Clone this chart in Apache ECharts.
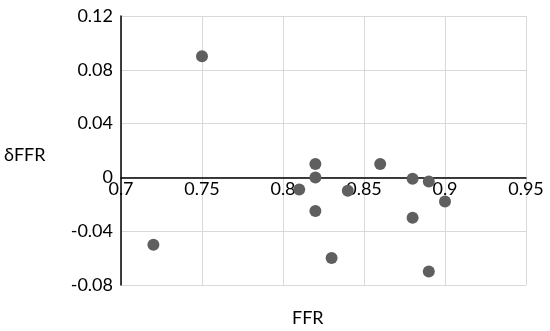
<!DOCTYPE html>
<html><head><meta charset="utf-8">
<script src="https://cdn.jsdelivr.net/npm/echarts@6/dist/echarts.min.js"></script>
<style>html,body{margin:0;padding:0;background:#fff}#c{width:550px;height:331px}</style>
</head><body><div id="c"></div>
<script>
const ffr = [0.72, 0.75, 0.81, 0.82, 0.82, 0.82, 0.83, 0.84, 0.86, 0.88, 0.88, 0.89, 0.89, 0.90];
const dffr = [-0.05, 0.09, -0.009, 0.01, 0, -0.025, -0.06, -0.01, 0.01, -0.001, -0.03, -0.003, -0.07, -0.018];
const xName = 'FFR';
const yName = 'δFFR';
const font = 'Lato, "Open Sans", sans-serif';
const chart = echarts.init(document.getElementById('c'));
const fmt = v => String(parseFloat(v.toFixed(4)));
const gTop = 16, gBottom = 46, H = 331;
const yMin = -0.08, yMax = 0.12;
const plotH = H - gTop - gBottom;
const zeroOffset = -plotH * (0 - yMin) / (yMax - yMin);
chart.setOption({
  animation: false,
  grid: {left: 121, right: 24, top: gTop, bottom: gBottom},
  xAxis: {
    type: 'value', min: 0.7, max: 0.95, interval: 0.05,
    offset: zeroOffset,
    axisLine: {onZero: false, lineStyle: {color: '#000', width: 1.5}},
    axisTick: {show: false},
    axisLabel: {color: '#000', fontSize: 18, fontFamily: font, formatter: fmt, margin: 3},
    splitLine: {lineStyle: {color: '#d9d9d9', width: 1}}
  },
  yAxis: {
    type: 'value', min: yMin, max: yMax, interval: 0.04,
    axisLine: {show: true, lineStyle: {color: '#000', width: 1.5}},
    axisTick: {show: false},
    axisLabel: {color: '#000', fontSize: 18, fontFamily: font, formatter: fmt, margin: 8},
    splitLine: {lineStyle: {color: '#d9d9d9', width: 1}}
  },
  graphic: [
    {type: 'text', left: 4, top: 146, style: {text: yName, fontSize: 18, fontFamily: font, fill: '#000'}},
    {type: 'text', left: 292, top: 309, style: {text: xName, fontSize: 18, fontFamily: font, fill: '#000'}}
  ],
  series: [{
    type: 'scatter', symbolSize: 12,
    itemStyle: {color: '#5f5f5f', opacity: 1},
    data: ffr.map((x, i) => [x, dffr[i]])
  }]
});
</script></body></html>
